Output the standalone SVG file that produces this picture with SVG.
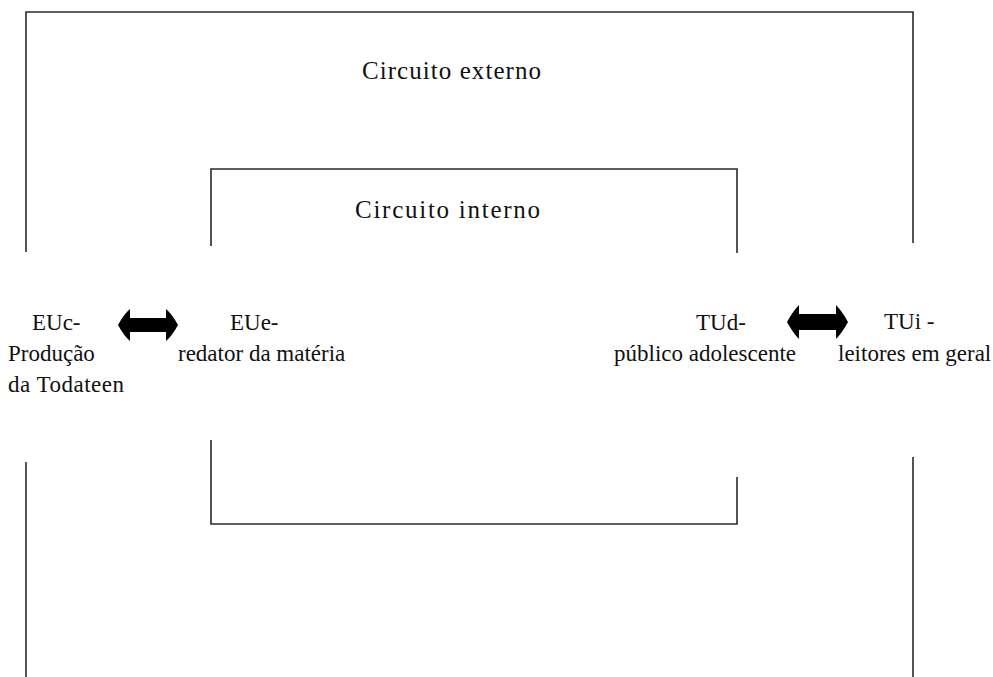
<svg xmlns="http://www.w3.org/2000/svg" width="993" height="677" viewBox="0 0 993 677">
<style>
.ln{fill:none;stroke:#2a2a2a;stroke-width:1.6}
.t{font-family:"Liberation Serif","Times New Roman",serif;font-size:23px;fill:#111}
.ttl{font-family:"Liberation Serif","Times New Roman",serif;font-size:25px;fill:#111}
.arr{fill:#000}
</style>
<rect width="993" height="677" fill="#fff"/>
<g id="outer-circuit">
<path class="ln" d="M26,252 V12 H913 V243"/>
<path class="ln" d="M26,462 V677"/>
<path class="ln" d="M913,457 V677"/>
<text class="ttl" x="362" y="79" textLength="179" lengthAdjust="spacing">Circuito externo</text>
</g>
<g id="inner-circuit">
<path class="ln" d="M211,246 V169 H737 V253"/>
<path class="ln" d="M211,440 V524 H737 V477"/>
<text class="ttl" x="355" y="218" textLength="185" lengthAdjust="spacing">Circuito interno</text>
</g>
<g id="euc">
<text class="t" x="32" y="330">EUc-</text>
<text class="t" x="8" y="361">Produção</text>
<text class="t" x="8" y="392" textLength="116" lengthAdjust="spacing">da Todateen</text>
</g>
<g id="eue">
<text class="t" x="230" y="330">EUe-</text>
<text class="t" x="178" y="361">redator da matéria</text>
</g>
<g id="tud">
<text class="t" x="696" y="330">TUd-</text>
<text class="t" x="614" y="361">público adolescente</text>
</g>
<g id="tui">
<text class="t" x="884" y="329">TUi -</text>
<text class="t" x="838" y="361">leitores em geral</text>
</g>
<g id="connectors">
<path class="arr" d="M118,325 Q124,314 130,309 V318 H166 V309 Q172,314 178,325 Q172,336 166,341 V332 H130 V341 Q124,336 118,325 Z"/>
<path class="arr" d="M787,322 Q793,311 799,305 V314 H836 V305 Q842,311 848,322 Q842,333 836,339 V330 H799 V339 Q793,333 787,322 Z"/>
</g>
</svg>
